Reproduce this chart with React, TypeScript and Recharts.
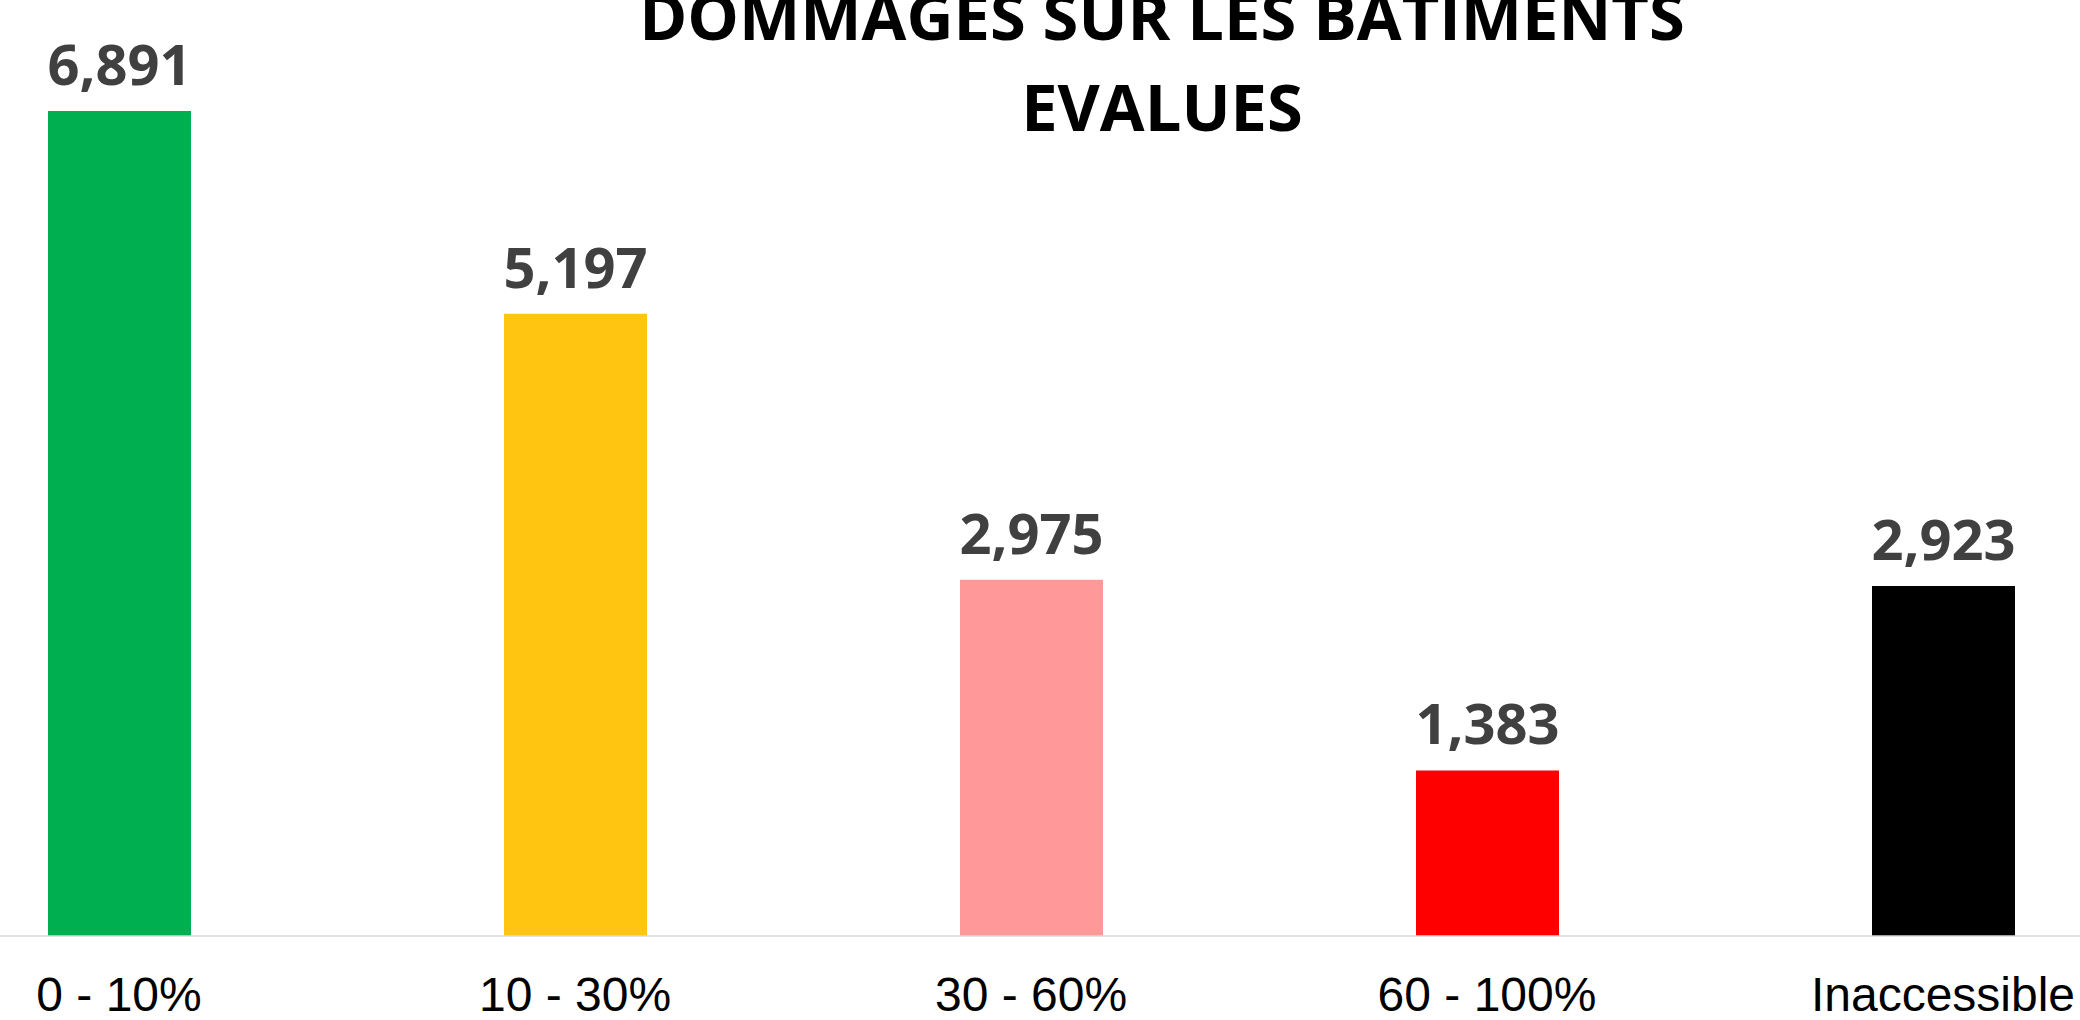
import { BarChart, Bar, XAxis, YAxis, Cell, LabelList } from 'recharts';

const CATEGORIES = ['0 - 10%', '10 - 30%', '30 - 60%', '60 - 100%', 'Inaccessible'];
const BUILDINGS = [6891, 5197, 2975, 1383, 2923];
const BAR_COLORS = ['#00B050', '#FFC511', '#FF9999', '#FF0000', '#000000'];
const TITLE_LINES = ['DOMMAGES SUR LES BATIMENTS', 'EVALUES'];

const chartData = CATEGORIES.map((category, i) => ({
  category,
  value: BUILDINGS[i],
}));

const formatValue = (v: number) => v.toLocaleString('en-US');

export default function App() {
  return (
    <div
      style={{
        position: 'absolute',
        left: 0,
        top: 0,
        width: 2080,
        height: 1020,
        overflow: 'hidden',
        background: '#ffffff',
      }}
    >
      <div style={{ position: 'absolute', left: -109.5, top: 0 }}>
        <BarChart
          width={2280}
          height={1020}
          data={chartData}
          margin={{ top: 0, right: 0, bottom: 0, left: 0 }}
          barCategoryGap={0}
        >
          <XAxis
            dataKey="category"
            height={84}
            tickLine={false}
            axisLine={{ stroke: '#d9d9d9', strokeWidth: 1.5 }}
            tickMargin={35}
            interval={0}
            tick={{ fontSize: 48, fill: '#000000', fontFamily: 'Liberation Sans, Arial, sans-serif' }}
          />
          <YAxis hide domain={[0, 7818]} />
          <Bar dataKey="value" barSize={143} isAnimationActive={false}>
            {chartData.map((entry, index) => (
              <Cell key={`cell-${entry.category}`} fill={BAR_COLORS[index]} />
            ))}
            <LabelList
              dataKey="value"
              position="top"
              offset={26}
              formatter={(v: any) => formatValue(Number(v))}
              style={{
                fontSize: 56,
                fontWeight: 700,
                fill: '#404040',
                fontFamily: 'Open Sans, sans-serif',
              }}
            />
          </Bar>
        </BarChart>
      </div>
      <svg
        width={2080}
        height={1020}
        style={{ position: 'absolute', left: 0, top: 0, pointerEvents: 'none' }}
      >
        {TITLE_LINES.map((line, i) => (
          <text
            key={line}
            x={1162}
            y={40 + i * 91}
            textAnchor="middle"
            fontFamily="Open Sans, sans-serif"
            fontWeight={700}
            fontSize={65}
            fill="#000000"
          >
            {line}
          </text>
        ))}
      </svg>
    </div>
  );
}
